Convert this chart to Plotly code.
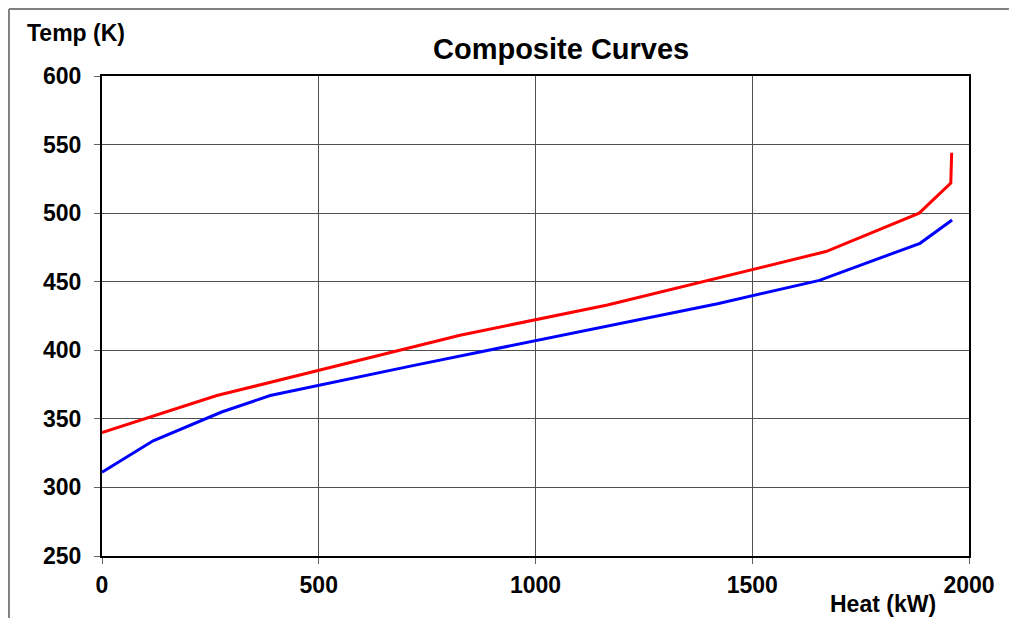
import plotly.graph_objects as go

# Hot composite curve (red)
hot_heat = [0, 265, 826, 1166, 1670, 1885, 1958, 1960]
hot_temp = [340, 367, 411, 433, 472, 500, 522, 544]

# Cold composite curve (blue)
cold_heat = [0, 118, 276, 388, 720, 1420, 1655, 1887, 1961]
cold_temp = [311, 334, 355, 367, 389, 434, 451, 478, 495]

x_ticks = [0, 500, 1000, 1500, 2000]
y_ticks = [250, 300, 350, 400, 450, 500, 550, 600]

FONT = "Arial, Liberation Sans, sans-serif"

fig = go.Figure()
fig.add_trace(go.Scatter(x=hot_heat, y=hot_temp, mode="lines",
                         line=dict(color="#ff0000", width=3), showlegend=False))
fig.add_trace(go.Scatter(x=cold_heat, y=cold_temp, mode="lines",
                         line=dict(color="#0000ff", width=3), showlegend=False))

axis_common = dict(
    showline=True, linecolor="black", linewidth=2, mirror=True,
    showgrid=True, gridcolor="#505050", gridwidth=1,
    ticks="outside", ticklen=6, tickcolor="#606060", tickwidth=1,
    zeroline=False,
    tickfont=dict(family=FONT, size=23, color="black", weight="bold"),
)

fig.update_xaxes(range=[0, 2000], tickvals=x_ticks, ticklabelstandoff=1, **axis_common)
fig.update_yaxes(range=[250, 600], tickvals=y_ticks, ticklabelstandoff=8, **axis_common)

border = dict(color="#808080", width=2)

fig.update_layout(
    width=1001, height=610,
    margin=dict(l=94, r=40, t=68, b=62),
    paper_bgcolor="white", plot_bgcolor="white",
    annotations=[
        dict(text="<b>Composite Curves</b>", xref="paper", yref="paper",
             x=0.529, y=1.056, xanchor="center", yanchor="middle", showarrow=False,
             font=dict(family=FONT, size=29, color="black")),
        dict(text="<b>Temp (K)</b>", xref="paper", yref="paper",
             x=-0.0888, y=1.0896, xanchor="left", yanchor="middle", showarrow=False,
             font=dict(family=FONT, size=23, color="black")),
        dict(text="<b>Heat (kW)</b>", xref="paper", yref="paper",
             x=0.837, y=-0.101, xanchor="left", yanchor="middle", showarrow=False,
             font=dict(family=FONT, size=23, color="black")),
    ],
    shapes=[
        dict(type="line", xref="paper", yref="paper",
             x0=-0.1073, y0=1.1396, x1=1.046, y1=1.1396, line=border, layer="below"),
        dict(type="line", xref="paper", yref="paper",
             x0=-0.1073, y0=-0.129, x1=-0.1073, y1=1.1396, line=border, layer="below"),
    ],
)

fig.write_html("out.html")
